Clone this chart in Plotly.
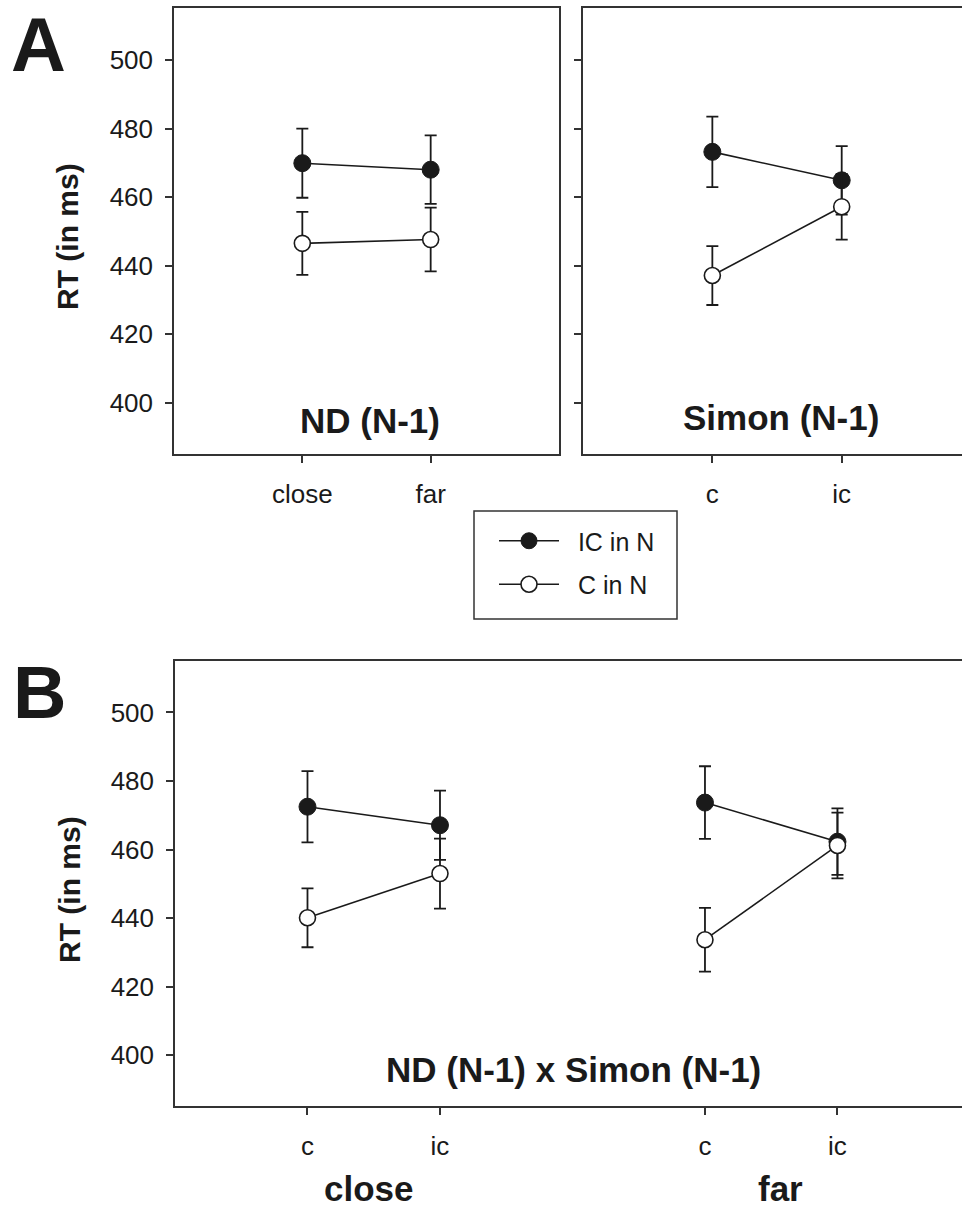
import plotly.graph_objects as go

# ---------------- data ----------------
# Panel A (left): ND (N-1)
nd_categories = ["close", "far"]
nd_ic_mean = [469.9, 468.0]
nd_ic_err = [10.1, 10.0]
nd_c_mean = [446.5, 447.6]
nd_c_err = [9.2, 9.3]

# Panel A (right): Simon (N-1)
simon_categories = ["c", "ic"]
simon_ic_mean = [473.2, 464.9]
simon_ic_err = [10.3, 10.0]
simon_c_mean = [437.1, 457.2]
simon_c_err = [8.6, 9.6]

# Panel B: ND (N-1) x Simon (N-1)  (order: close-c, close-ic, far-c, far-ic)
inter_groups = ["close", "far"]
inter_categories = ["c", "ic"]
inter_ic_mean = [472.5, 467.1, 473.7, 462.3]
inter_ic_err = [10.4, 10.1, 10.6, 9.7]
inter_c_mean = [440.1, 453.0, 433.7, 461.2]
inter_c_err = [8.6, 10.2, 9.3, 9.6]

y_ticks = [400, 420, 440, 460, 480, 500]
series_names = ["IC in N", "C in N"]

# ---------------- styling ----------------
FONT = "Liberation Sans, Arial, sans-serif"
INK = "#1a1a1a"
AX = "#333333"
W, H = 962, 1210

pos_nd = [i + 1 for i in range(len(nd_categories))]
pos_simon = [i + 1 for i in range(len(simon_categories))]
ncat = len(inter_categories)
pos_inter = []
tick_inter = []
for g, grp in enumerate(inter_groups):
    for c, cat in enumerate(inter_categories):
        pos_inter.append(g * (ncat + 1) + c + 1)
        tick_inter.append(cat)

fig = go.Figure()


def add_pair(x, ic_m, ic_e, c_m, c_e, xa, ya, legend):
    fig.add_trace(go.Scatter(
        x=x, y=ic_m, mode="lines+markers", name="\u00a0\u00a0" + series_names[0],
        legendgroup="ic", showlegend=legend, xaxis=xa, yaxis=ya,
        line=dict(color=INK, width=1.6),
        marker=dict(symbol="circle", size=17, color=INK, line=dict(color=INK, width=1)),
        error_y=dict(type="data", array=ic_e, color=INK, thickness=1.8, width=6),
    ))
    fig.add_trace(go.Scatter(
        x=x, y=c_m, mode="lines+markers", name="\u00a0\u00a0" + series_names[1],
        legendgroup="c", showlegend=legend, xaxis=xa, yaxis=ya,
        line=dict(color=INK, width=1.6),
        marker=dict(symbol="circle", size=16, color="white", line=dict(color=INK, width=1.6)),
        error_y=dict(type="data", array=c_e, color=INK, thickness=1.8, width=6),
    ))


add_pair(pos_nd, nd_ic_mean, nd_ic_err, nd_c_mean, nd_c_err, "x", "y", True)
add_pair(pos_simon, simon_ic_mean, simon_ic_err, simon_c_mean, simon_c_err, "x2", "y2", False)
for g in range(len(inter_groups)):
    s = slice(g * ncat, (g + 1) * ncat)
    add_pair(pos_inter[s], inter_ic_mean[s], inter_ic_err[s],
             inter_c_mean[s], inter_c_err[s], "x3", "y3", False)

axis_common = dict(
    showline=True, linecolor=AX, linewidth=1.5,
    ticks="outside", ticklen=7, tickwidth=1.5, tickcolor=AX,
    showgrid=False, zeroline=False,
    tickfont=dict(family=FONT, size=26, color=INK),
)

yA = [1 - 454 / H, 1 - 8 / H]
yB = [1 - 1106 / H, 1 - 661 / H]

fig.update_layout(
    width=W, height=H,
    margin=dict(l=0, r=0, t=0, b=0),
    paper_bgcolor="white", plot_bgcolor="white",
    font=dict(family=FONT, color=INK),
    xaxis=dict(axis_common, domain=[174 / W, 559 / W], range=[0, 3],
               tickvals=pos_nd, ticktext=nd_categories, mirror=True,
               anchor="y", ticklabelstandoff=9),
    yaxis=dict(axis_common, domain=yA, range=[385.0, 515.2],
               tickvals=y_ticks, mirror=True, anchor="x", ticklabelstandoff=7),
    xaxis2=dict(axis_common, domain=[583 / W, 1.0], range=[0, 2.93],
                tickvals=pos_simon, ticktext=simon_categories, mirror=True,
                anchor="y2", ticklabelstandoff=9),
    yaxis2=dict(axis_common, domain=yA, range=[385.0, 515.2],
                tickvals=y_ticks, showticklabels=False, mirror=False, anchor="x2"),
    xaxis3=dict(axis_common, domain=[175 / W, 1.0], range=[0, 5.94],
                tickvals=pos_inter, ticktext=tick_inter, mirror=True,
                anchor="y3", ticklabelstandoff=9),
    yaxis3=dict(axis_common, domain=yB, range=[385.2, 515.0],
                tickvals=y_ticks, mirror=False, anchor="x3", ticklabelstandoff=7),
    legend=dict(
        x=494 / W, y=1 - 518 / H, xanchor="left", yanchor="top",
        borderwidth=0, bgcolor="rgba(0,0,0,0)",
        font=dict(family=FONT, size=25, color=INK),
        itemwidth=60, tracegroupgap=8,
    ),
    shapes=[dict(type="rect", xref="paper", yref="paper",
                 x0=474 / W, x1=677 / W, y0=1 - 619 / H, y1=1 - 511 / H,
                 line=dict(color=AX, width=1.5), fillcolor="rgba(0,0,0,0)",
                 layer="below")],
)


def ann(text, x, y, size, bold=True, angle=0, yanchor="middle"):
    fig.add_annotation(
        text=f"<b>{text}</b>" if bold else text,
        x=x / W, y=1 - y / H, xref="paper", yref="paper",
        xanchor="center", yanchor=yanchor, showarrow=False, textangle=angle,
        font=dict(family=FONT, size=size, color=INK),
    )


ann("A", 38, 45, 76)
ann("B", 39, 692, 74)
ann("RT (in ms)", 68, 237, 30, angle=-90)
ann("RT (in ms)", 69, 890, 30, angle=-90)
ann("ND (N-1)", 370, 421, 35)
ann("Simon (N-1)", 781, 417, 35)
ann("ND (N-1) x Simon (N-1)", 573, 1069, 35)
ann(inter_groups[0], 369, 1210, 35, yanchor="bottom")
ann(inter_groups[1], 780, 1210, 35, yanchor="bottom")

fig.write_html(
    "out.html",
    config={"displayModeBar": False},
    post_script="document.body.style.margin='0';document.body.style.padding='0';"
                "document.body.style.overflow='hidden';",
)
